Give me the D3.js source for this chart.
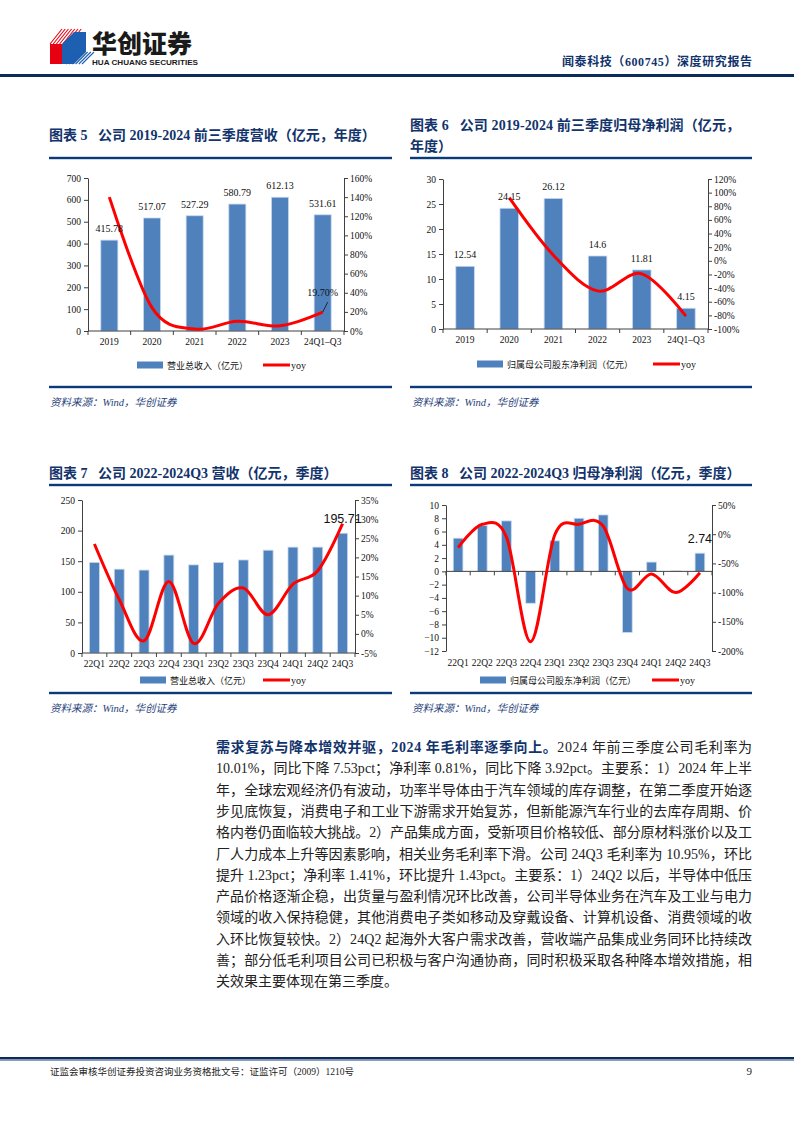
<!DOCTYPE html>
<html><head><meta charset="utf-8">
<script src="https://cdn.jsdelivr.net/npm/d3@7"></script>
<style>body{margin:0;background:#fff}svg{display:block}svg text{white-space:pre}</style>
</head><body>
<svg id="page" width="794" height="1123"></svg>
<script>
// ---------- data ----------
const annualCats = ["2019","2020","2021","2022","2023","24Q1–Q3"];
const annualRevenue = [415.78,517.07,527.29,580.79,612.13,531.61];
const annualRevenueYoy = [140.0,24.4,2.0,10.1,5.4,19.7];
const annualProfit = [12.54,24.15,26.12,14.6,11.81,4.15];
const annualProfitYoy = [null,92.6,8.2,-44.1,-19.1,-81.0];

const quarterCats = ["22Q1","22Q2","22Q3","22Q4","23Q1","23Q2","23Q3","23Q4","24Q1","24Q2","24Q3"];
const quarterRevenue = [148,137,135.5,160,144,148,152,168,173,173,195.71];
const quarterRevenueYoy = [23.5,9.0,-1.8,13.7,-2.5,8.0,12.0,5.0,13.0,16.5,28.8];
const quarterProfit = [5.0,6.9,7.6,-4.8,4.6,8.0,8.5,-9.2,1.4,0.06,2.74];
const quarterProfitYoy = [-23,17,-5,-184,-1,17,14,-93,-68,-100,-66];

const revTicks = [0,100,200,300,400,500,600,700];
const revYoyTicks = [0,20,40,60,80,100,120,140,160];
const profTicks = [0,5,10,15,20,25,30];
const profYoyTicks = [-100,-80,-60,-40,-20,0,20,40,60,80,100,120];
const qRevTicks = [0,50,100,150,200,250];
const qRevYoyTicks = [-5,0,5,10,15,20,25,30,35];
const qProfTicks = [-12,-10,-8,-6,-4,-2,0,2,4,6,8,10];
const qProfYoyTicks = [-200,-150,-100,-50,0,50];

// ---------- style ----------
const svg = d3.select("#page");
const SERIF = "'Liberation Serif','Noto Sans CJK SC',serif";
const CJK = "'Noto Sans CJK SC',sans-serif";
const BAR = "#4f81bd";
const RED = "#ff0000";
const NAVY = "#12336b";
const RULE = "#0b3a7a";

// ---------- header ----------
const logo = svg.append("g");
for (let i = 0; i < 7; i++) {
  logo.append("line").attr("x1", 50 + i*3.2).attr("y1", 44).attr("x2", 62 + i*3.2).attr("y2", 29)
    .attr("stroke", "#e60012").attr("stroke-width", 1.1);
}
logo.append("polygon").attr("points","50,44 62,44 62,64 50,64").attr("fill","#e60012");
logo.append("polygon").attr("points","62,44 74,32 86,32 86,52 74,64 62,64").attr("fill","#1d5fb0");
for (let i = 0; i < 6; i++) {
  logo.append("line").attr("x1", 66 + i*3.2).attr("y1", 64).attr("x2", 78 + i*3.2).attr("y2", 52)
    .attr("stroke", "#1d5fb0").attr("stroke-width", 1.1);
}
svg.append("text").attr("x",92).attr("y",53).attr("font-family",CJK).attr("font-weight",900)
  .attr("font-size",25).attr("fill","#1a1a1a").text("华创证券");
svg.append("text").attr("x",92).attr("y",64.5).attr("font-family","'Liberation Sans',sans-serif").attr("font-weight",700)
  .attr("font-size",7).attr("fill","#1a1a1a").attr("textLength",106).attr("lengthAdjust","spacingAndGlyphs").text("HUA CHUANG SECURITIES");
svg.append("text").attr("x",752).attr("y",66).attr("text-anchor","end").attr("font-family",SERIF).attr("font-weight",700)
  .attr("font-size",12).attr("fill",NAVY).attr("textLength",190).attr("lengthAdjust","spacing").text("闻泰科技（600745）深度研究报告");
svg.append("rect").attr("x",0).attr("y",74).attr("width",794).attr("height",3).attr("fill","#0b2c5a");

// ---------- titles / rules ----------
function title(x, y, s, len) {
  const t = svg.append("text").attr("x",x).attr("y",y).attr("font-family",SERIF).attr("font-weight",700)
    .attr("font-size",14).attr("fill",NAVY).text(s);
  if (len) t.attr("textLength",len).attr("lengthAdjust","spacing");
}
function rule(x1, x2, y) {
  svg.append("rect").attr("x",x1).attr("y",y-1.2).attr("width",x2-x1).attr("height",2.4).attr("fill",RULE);
}
function source(x, y) {
  svg.append("text").attr("x",x).attr("y",y).attr("font-family",SERIF).attr("font-style","italic")
    .attr("font-size",10.5).attr("fill","#1f3f7a").text("资料来源：Wind，华创证券");
}
title(49, 140, "图表 5   公司 2019-2024 前三季度营收（亿元，年度）");
title(410, 130, "图表 6   公司 2019-2024 前三季度归母净利润（亿元，", 330);
title(410, 151, "年度）");
rule(49, 392, 158); rule(410, 752, 158);
rule(49, 392, 387); rule(410, 752, 387);
source(50, 406); source(412, 406);

title(49, 478, "图表 7   公司 2022-2024Q3 营收（亿元，季度）");
title(410, 478, "图表 8   公司 2022-2024Q3 归母净利润（亿元，季度）");
rule(49, 392, 485); rule(410, 752, 485);
rule(49, 392, 693); rule(410, 752, 693);
source(50, 712); source(412, 712);

// ---------- combo chart ----------
function combo(c) {
  const g = svg.append("g");
  const x = d3.scaleBand().domain(c.cats).range([c.x0, c.x1]).paddingInner(c.pad).paddingOuter(c.pad/2);
  const yL = d3.scaleLinear().domain(c.leftDomain).range([c.yBot, c.yTop]);
  const yR = d3.scaleLinear().domain(c.rightDomain).range([c.yBot, c.yTop]);
  const base = yL(0);
  const cx = i => x(c.cats[i]) + x.bandwidth()/2;

  g.selectAll("rect.bar").data(c.bars).join("rect").attr("class","bar")
    .attr("x",(d,i)=>x(c.cats[i])).attr("width",x.bandwidth())
    .attr("y",d=>Math.min(yL(d),base)).attr("height",d=>Math.abs(yL(d)-base))
    .attr("fill",BAR).attr("stroke","#c9d9ee").attr("stroke-width",0.8);

  const la = g.append("g").attr("transform",`translate(${c.x0},0)`)
    .call(d3.axisLeft(yL).tickValues(c.leftTicks).tickSize(4).tickSizeOuter(0).tickPadding(3).tickFormat(c.leftFmt));
  const ra = g.append("g").attr("transform",`translate(${c.x1},0)`)
    .call(d3.axisRight(yR).tickValues(c.rightTicks).tickSize(4).tickSizeOuter(0).tickPadding(2).tickFormat(c.rightFmt));
  [la, ra].forEach(a => {
    a.select(".domain").attr("stroke","#404040");
    a.selectAll(".tick line").attr("stroke","#404040");
    a.selectAll(".tick text").attr("font-family",SERIF).attr("font-size",9.5).attr("fill","#111");
  });

  g.append("line").attr("x1",c.x0).attr("x2",c.x1).attr("y1",base).attr("y2",base).attr("stroke","#404040");
  d3.range(c.cats.length + 1).forEach(i => {
    const xx = c.x0 + i * x.step();
    g.append("line").attr("x1",xx).attr("x2",xx).attr("y1",base).attr("y2",base+4).attr("stroke","#404040");
  });
  g.selectAll("text.cat").data(c.cats).join("text").attr("class","cat")
    .attr("x",(d,i)=>cx(i)).attr("y",c.yBot + c.catDy).attr("text-anchor","middle")
    .attr("font-family",SERIF).attr("font-size",9.5).attr("fill","#111").text(d=>d);

  const line = d3.line().defined(d=>d!=null).x((d,i)=>cx(i)).y(d=>yR(d)).curve(d3.curveCardinal.tension(0));
  g.append("path").attr("d",line(c.lineVals)).attr("fill","none").attr("stroke",RED).attr("stroke-width",3).attr("stroke-linejoin","round");

  (c.barLabels || []).forEach(l => {
    const v = c.bars[l.i];
    g.append("text").attr("x",cx(l.i)).attr("y",yL(v) - l.dy).attr("text-anchor","middle")
      .attr("font-family",l.font || SERIF).attr("font-size",l.size || 10).attr("fill","#111").text(l.text);
  });
  if (c.yoyLabel) {
    const l = c.yoyLabel, v = c.lineVals[l.i];
    const px = cx(l.i), py = yR(v);
    g.append("line").attr("x1",px).attr("y1",py).attr("x2",px+5).attr("y2",py-10).attr("stroke","#111").attr("stroke-width",0.8);
    g.append("text").attr("x",px).attr("y",py-16).attr("text-anchor","middle")
      .attr("font-family",SERIF).attr("font-size",10).attr("fill","#111").text(l.text);
  }

  const L = c.legend;
  g.append("rect").attr("x",L.rx).attr("y",L.y-3.5).attr("width",26).attr("height",7).attr("fill",BAR);
  g.append("text").attr("x",L.rx+30).attr("y",L.y+3.5).attr("font-family",CJK).attr("font-size",9).attr("fill","#111").text(L.text);
  g.append("line").attr("x1",L.lx).attr("x2",L.lx+27).attr("y1",L.y).attr("y2",L.y).attr("stroke",RED).attr("stroke-width",3);
  g.append("text").attr("x",L.lx+28).attr("y",L.y+3.5).attr("font-family",SERIF).attr("font-size",10).attr("fill","#111").text("yoy");
}

const fmtPct = d => d + "%";

combo({cats:annualCats, bars:annualRevenue, lineVals:annualRevenueYoy,
  x0:88, x1:344, yTop:178, yBot:331, pad:0.6, catDy:14,
  leftDomain:[0,700], leftTicks:revTicks, leftFmt:d3.format("d"),
  rightDomain:[0,160], rightTicks:revYoyTicks, rightFmt:fmtPct,
  barLabels: annualRevenue.map((v,i)=>({i, text:v.toFixed(2), dy:8})),
  yoyLabel:{i:5, text:"19.70%"},
  legend:{rx:137, lx:263, y:365, text:"营业总收入（亿元）"}});

combo({cats:annualCats, bars:annualProfit, lineVals:annualProfitYoy,
  x0:443, x1:708, yTop:179, yBot:329, pad:0.58, catDy:14,
  leftDomain:[0,30], leftTicks:profTicks, leftFmt:d3.format("d"),
  rightDomain:[-100,120], rightTicks:profYoyTicks, rightFmt:fmtPct,
  barLabels: annualProfit.map((v,i)=>({i, text:String(v), dy:8})),
  legend:{rx:477, lx:653, y:364, text:"归属母公司股东净利润（亿元）"}});

combo({cats:quarterCats, bars:quarterRevenue, lineVals:quarterRevenueYoy,
  x0:82, x1:355, yTop:500, yBot:653, pad:0.6, catDy:14,
  leftDomain:[0,250], leftTicks:qRevTicks, leftFmt:d3.format("d"),
  rightDomain:[-5,35], rightTicks:qRevYoyTicks, rightFmt:fmtPct,
  barLabels:[{i:10, text:"195.71", dy:10, font:"'Liberation Sans',sans-serif", size:12.5}],
  legend:{rx:140, lx:263, y:680, text:"营业总收入（亿元）"}});

combo({cats:quarterCats, bars:quarterProfit, lineVals:quarterProfitYoy,
  x0:446, x1:712, yTop:505, yBot:651, pad:0.6, catDy:15,
  leftDomain:[-12,10], leftTicks:qProfTicks, leftFmt:d3.format("d"),
  rightDomain:[-200,50], rightTicks:qProfYoyTicks, rightFmt:fmtPct,
  barLabels:[{i:10, text:"2.74", dy:10, font:"'Liberation Sans',sans-serif", size:12.5}],
  legend:{rx:480, lx:652, y:680, text:"归属母公司股东净利润（亿元）"}});

// ---------- paragraph ----------
const paraLines = [
  "10.01%，同比下降 7.53pct；净利率 0.81%，同比下降 3.92pct。主要系：1）2024 年上半",
  "年，全球宏观经济仍有波动，功率半导体由于汽车领域的库存调整，在第二季度开始逐",
  "步见底恢复，消费电子和工业下游需求开始复苏，但新能源汽车行业的去库存周期、价",
  "格内卷仍面临较大挑战。2）产品集成方面，受新项目价格较低、部分原材料涨价以及工",
  "厂人力成本上升等因素影响，相关业务毛利率下滑。公司 24Q3 毛利率为 10.95%，环比",
  "提升 1.23pct；净利率 1.41%，环比提升 1.43pct。主要系：1）24Q2 以后，半导体中低压",
  "产品价格逐渐企稳，出货量与盈利情况环比改善，公司半导体业务在汽车及工业与电力",
  "领域的收入保持稳健，其他消费电子类如移动及穿戴设备、计算机设备、消费领域的收",
  "入环比恢复较快。2）24Q2 起海外大客户需求改善，营收端产品集成业务同环比持续改",
  "善；部分低毛利项目公司已积极与客户沟通协商，同时积极采取各种降本增效措施，相",
  "关效果主要体现在第三季度。"
];
const PX = 216, PW = 536, PY = 752, LH = 21.3;
const first = svg.append("text").attr("x",PX).attr("y",PY).attr("font-family",SERIF).attr("font-size",14)
  .attr("fill","#222").attr("textLength",PW).attr("lengthAdjust","spacing");
first.append("tspan").attr("font-weight",700).attr("fill",NAVY).text("需求复苏与降本增效并驱，2024 年毛利率逐季向上。");
first.append("tspan").text("2024 年前三季度公司毛利率为");
paraLines.forEach((s,i) => {
  const t = svg.append("text").attr("x",PX).attr("y",PY + (i+1)*LH).attr("font-family",SERIF).attr("font-size",14)
    .attr("fill","#222").text(s);
  if (i < paraLines.length - 1) t.attr("textLength",PW).attr("lengthAdjust","spacing");
});

// ---------- footer ----------
svg.append("rect").attr("x",0).attr("y",1057).attr("width",794).attr("height",2.5).attr("fill","#0b2c5a");
svg.append("rect").attr("x",0).attr("y",1060).attr("width",794).attr("height",0.8).attr("fill","#6a86b0");
svg.append("text").attr("x",50).attr("y",1075).attr("font-family",SERIF).attr("font-size",9.5).attr("fill","#222")
  .text("证监会审核华创证券投资咨询业务资格批文号：证监许可（2009）1210号");
svg.append("text").attr("x",752).attr("y",1075).attr("text-anchor","end").attr("font-family",SERIF).attr("font-size",11).attr("fill","#222").text("9");
</script>
</body></html>
